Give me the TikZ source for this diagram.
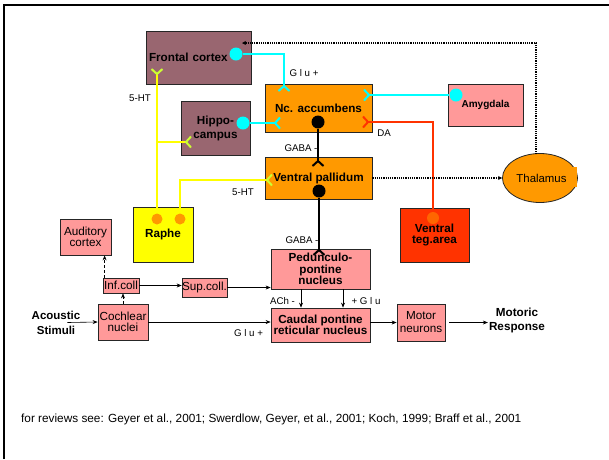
\documentclass[tikz,border=0pt]{standalone}
\usepackage{fontspec}
\setmainfont{Liberation Sans}
\usetikzlibrary{arrows.meta}
\usetikzlibrary{positioning}
\usetikzlibrary{shapes.geometric}

\definecolor{cortex}{HTML}{996670}
\definecolor{nucleus}{HTML}{FF9900}
\definecolor{relay}{HTML}{FF9999}
\definecolor{raphe}{HTML}{FFFF00}
\definecolor{teg}{HTML}{FF3300}
\definecolor{glu}{HTML}{00FFFF}
\definecolor{httip}{HTML}{CCFF33}
\definecolor{dopa}{HTML}{FF3300}
\definecolor{dopadot}{HTML}{FF6600}

\newcommand{\boldfont}{\fontsize{11.7}{11.5}\selectfont\bfseries}
\newcommand{\plainfont}{\fontsize{11.7}{11}\selectfont}
\newcommand{\smallfont}{\fontsize{9.7}{11}\selectfont}

\begin{document}
\begin{tikzpicture}[x=1pt, y=-1pt]

\tikzstyle{area}=[draw=black!85, line width=0.8pt, align=center, inner sep=1pt, font=\boldfont]
\tikzstyle{relay}=[area, fill=relay, font=\plainfont]
\tikzstyle{terminal}=[circle, inner sep=0pt, minimum size=13pt]
\tikzstyle{transmitter}=[inner sep=0pt, font=\smallfont]
\tikzstyle{line}=[draw, line width=0.6pt, -{Stealth[length=5pt,width=4pt]}]
\tikzstyle{weak}=[line, densely dashed]
\tikzstyle{modulation}=[draw, densely dotted, line width=1.2pt, -{Stealth[length=4pt,width=4pt]}]
\tikzstyle{glu}=[draw=glu, line width=2.5pt, -{Straight Barb[reversed,length=5pt,width=11pt,line width=2pt]}]
\tikzstyle{dopamine}=[glu, draw=dopa]
\tikzstyle{gaba}=[glu, draw=black, line width=2pt]
\tikzstyle{serotonin}=[draw=raphe, line width=2.5pt, -{Straight Barb[reversed,length=5pt,width=11pt,line width=2pt,color=httip]}]

\useasboundingbox (0,0) rectangle (609,459);
\draw[line width=2.5pt] (4,459) -- (4,5) -- (609,5);

% forebrain
\node[area, fill=cortex, minimum width=105pt, minimum height=53pt, text width=99pt, align=left] (frontal) at (198.5,57.5) {Frontal cortex};
\node[area, fill=nucleus, minimum width=107pt, minimum height=48pt] (accumbens) at (318.5,108) {Nc. accumbens};
\node[area, fill=cortex, minimum width=69pt, minimum height=54pt, font=\fontsize{11.7}{14}\selectfont\bfseries] (hippocampus) at (215.5,128.5) {Hippo-\\campus};
\node[area, fill=relay, minimum width=75pt, minimum height=42pt, font=\fontsize{10}{11}\selectfont\bfseries] (amygdala) at (485.5,105) {Amygdala};
\node[area, fill=nucleus, minimum width=107pt, minimum height=42pt] (pallidum) at (318.5,178) {Ventral pallidum};
\node[ellipse, draw=black!85, line width=0.8pt, fill=nucleus, minimum width=67pt, minimum height=49pt, inner sep=0pt, font=\fontsize{11.4}{11}\selectfont] (thalamus) at (540,178) {\hspace{3pt}Thalamus};
\fill[nucleus] (571,167) rectangle (577,187);

% brainstem
\node[area, fill=raphe, minimum width=60pt, minimum height=55pt] (raphe) at (163,234.5) {Raphe};
\node[area, fill=teg, minimum width=69pt, minimum height=54pt, font=\fontsize{11.7}{11}\selectfont\bfseries] (vta) at (434.5,235) {Ventral\\teg.area};
\node[relay, minimum width=51pt, minimum height=36pt] (auditory) at (85.5,237) {Auditory\\cortex};
\node[area, fill=relay, minimum width=99pt, minimum height=40pt, font=\fontsize{11.7}{11.5}\selectfont\bfseries] (ppn) at (320.5,269) {Pedunculo-\\pontine\\nucleus};
\node[relay, minimum width=36pt, minimum height=15pt, inner sep=0pt] (infcoll) at (121,285.5) {Inf.coll};
\node[relay, minimum width=43pt, minimum height=19pt, inner sep=0pt] (supcoll) at (204.5,287.5) {Sup.coll.};
\node[relay, minimum width=50pt, minimum height=36pt] (cochlear) at (123,322) {Cochlear\\nuclei};
\node[area, fill=relay, minimum width=99pt, minimum height=34pt, font=\fontsize{11.7}{11}\selectfont\bfseries] (cprn) at (320.5,325) {Caudal pontine\\reticular nucleus};
\node[relay, minimum width=48pt, minimum height=37pt, font=\fontsize{11.7}{13}\selectfont] (motor) at (421,322.5) {Motor\\neurons};
\node[align=center, inner sep=1pt, font=\fontsize{11.5}{15}\selectfont\bfseries] (acoustic) at (56,322.5) {Acoustic\\Stimuli};
\node[align=center, inner sep=1pt, font=\fontsize{11.7}{14}\selectfont\bfseries] (motoric) at (517,320) {Motoric\\Response};

% terminals
\node[terminal, fill=glu] (frontaldot) at (236,54) {};
\node[terminal, fill=glu] (hippodot) at (243,123) {};
\node[terminal, fill=glu] (amygdaladot) at (456,95) {};
\node[terminal, fill=black] (accumbensdot) at (318,122) {};
\node[terminal, fill=black] (pallidumdot) at (319,191) {};
\node[terminal, fill=nucleus, minimum size=11pt] (raphedotA) at (157,219) {};
\node[terminal, fill=nucleus, minimum size=11pt] (raphedotB) at (180,219) {};
\node[terminal, fill=dopadot, minimum size=12pt] (vtadot) at (433,218) {};

% receptors
\coordinate (accumbensglu) at (284,92);
\coordinate (hippoglu) at (281,123);
\coordinate (amygdalaglu) at (363,95);
\coordinate (accumbensda) at (362,122);
\coordinate (pallidumgaba) at (318,167);
\coordinate (ppngaba) at (319,256);
\coordinate (frontalht) at (157,68);
\coordinate (hippoht) at (192,142);
\coordinate (pallidumht) at (273,180);
\coordinate (frontalthal) at (242,43);
\coordinate (thalamustop) at (536,154);

\path[glu] (frontaldot) -| (accumbensglu);
\path[glu] (hippodot) -- (hippoglu);
\path[glu] (amygdaladot) -- (amygdalaglu);
\path[dopamine] (vtadot) |- (accumbensda);
\path[gaba] (accumbensdot) -- (pallidumgaba);
\path[gaba] (pallidumdot) -- (ppngaba);
\path[serotonin] (raphedotA) -- (frontalht);
\path[serotonin] (raphedotA) |- (hippoht);
\path[serotonin] (raphedotB) |- (pallidumht);

\path[modulation] (pallidum) -- (thalamus);
\path[modulation] (thalamustop) |- (frontalthal);

% startle pathway
\path[line] ([xshift=-14pt]acoustic.east) -- (cochlear.west);
\path[line] (cochlear.east) -- (cochlear.east -| cprn.west);
\path[weak] (cochlear.north) -- (cochlear.north |- infcoll.south);
\path[weak] ([xshift=2pt]infcoll.north west) -- ([xshift=2pt]infcoll.north west |- auditory.south);
\path[line] (infcoll.east) -- (infcoll.east -| supcoll.west);
\path[line] (supcoll.east) -- (supcoll.east -| ppn.west);
\path[line] ([xshift=-19.5pt]ppn.south) -- ([xshift=-19.5pt]cprn.north);
\path[line] ([xshift=22.5pt]ppn.south) -- ([xshift=22.5pt]cprn.north);
\path[line] (motor.west -| cprn.east) -- (motor.west);
\path[line] ([xshift=4pt]motor.east) -- (motor.east -| motoric.west);

% transmitter labels
\node[transmitter] at (304,73) {G l u +};
\node[transmitter] at (301,148) {GABA -};
\node[transmitter] at (384,133) {DA};
\node[transmitter] at (140,98) {5-HT};
\node[transmitter] at (243,192) {5-HT};
\node[transmitter] at (302,240) {GABA -};
\node[transmitter] at (282.5,301) {ACh -};
\node[transmitter] at (366,301) {+ G l u};
\node[transmitter] at (248.5,333) {G l u +};

\node[anchor=west, inner sep=0pt, font=\fontsize{11.8}{13}\selectfont] (reviews) at (21,419) {for reviews see: Geyer et al., 2001; Swerdlow, Geyer, et al., 2001; Koch, 1999; Braff et al., 2001};

\end{tikzpicture}
\end{document}
